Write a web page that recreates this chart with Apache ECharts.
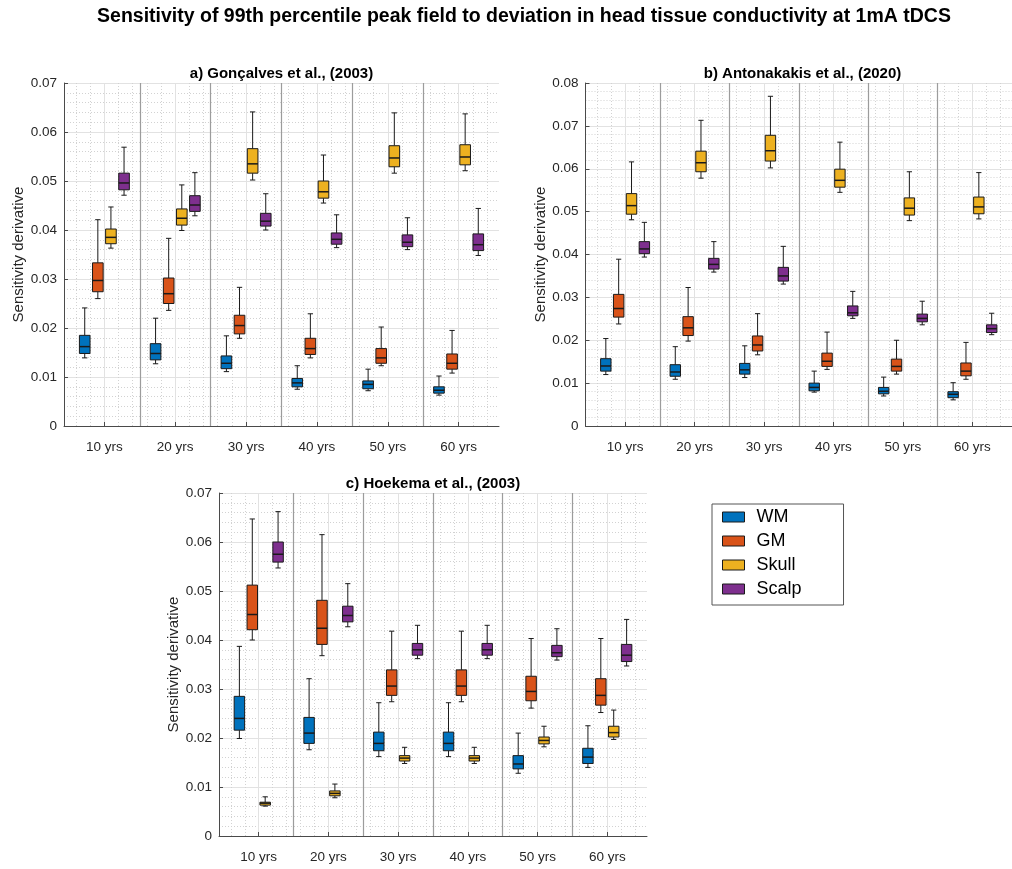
<!DOCTYPE html>
<html>
<head>
<meta charset="utf-8">
<script src="https://cdn.jsdelivr.net/npm/echarts@6/dist/echarts.min.js"></script>
<style>
  html, body { margin: 0; padding: 0; background: #fff; }
  #chart { width: 1012px; height: 869px; }
</style>
</head>
<body>
<div id="chart"></div>
<script>
// Age groups and tissues
const ageLabels = ['10 yrs', '20 yrs', '30 yrs', '40 yrs', '50 yrs', '60 yrs'];
const tissueNames = ['WM', 'GM', 'Skull', 'Scalp'];
const yTickStep = 0.01;

// Box statistics per age group: [lower whisker, Q1, median, Q3, upper whisker]
// a) Gonçalves et al. (2003)
const goncalvesWM = [
  [0.0139, 0.0148, 0.0162, 0.0185, 0.0241],
  [0.0127, 0.0135, 0.0148, 0.0168, 0.0220],
  [0.0111, 0.0117, 0.0128, 0.0143, 0.0184],
  [0.0075, 0.0080, 0.0088, 0.0097, 0.0123],
  [0.0072, 0.0076, 0.0085, 0.0092, 0.0116],
  [0.0063, 0.0067, 0.0073, 0.0080, 0.0102]
];
const goncalvesGM = [
  [0.0260, 0.0274, 0.0297, 0.0333, 0.0421],
  [0.0236, 0.0250, 0.0270, 0.0302, 0.0383],
  [0.0179, 0.0188, 0.0205, 0.0226, 0.0283],
  [0.0139, 0.0146, 0.0158, 0.0179, 0.0229],
  [0.0123, 0.0128, 0.0139, 0.0158, 0.0202],
  [0.0108, 0.0116, 0.0128, 0.0147, 0.0195]
];
const goncalvesSkull = [
  [0.0363, 0.0372, 0.0385, 0.0402, 0.0447],
  [0.0399, 0.0410, 0.0424, 0.0443, 0.0492],
  [0.0502, 0.0516, 0.0535, 0.0566, 0.0641],
  [0.0455, 0.0465, 0.0478, 0.0500, 0.0553],
  [0.0516, 0.0529, 0.0547, 0.0572, 0.0639],
  [0.0521, 0.0533, 0.0549, 0.0574, 0.0637]
];
const goncalvesScalp = [
  [0.0471, 0.0482, 0.0496, 0.0516, 0.0569],
  [0.0429, 0.0438, 0.0451, 0.0470, 0.0517],
  [0.0400, 0.0408, 0.0418, 0.0434, 0.0474],
  [0.0364, 0.0371, 0.0381, 0.0394, 0.0431],
  [0.0360, 0.0366, 0.0375, 0.0390, 0.0425],
  [0.0348, 0.0358, 0.0370, 0.0392, 0.0444]
];

// b) Antonakakis et al. (2020)
const antonakakisWM = [
  [0.0120, 0.0128, 0.0140, 0.0157, 0.0204],
  [0.0109, 0.0116, 0.0126, 0.0143, 0.0185],
  [0.0113, 0.0121, 0.0131, 0.0146, 0.0187],
  [0.0079, 0.0082, 0.0090, 0.0100, 0.0128],
  [0.0070, 0.0075, 0.0081, 0.0090, 0.0114],
  [0.0061, 0.0066, 0.0074, 0.0080, 0.0101]
];
const antonakakisGM = [
  [0.0238, 0.0254, 0.0274, 0.0307, 0.0389],
  [0.0198, 0.0211, 0.0229, 0.0255, 0.0323],
  [0.0166, 0.0175, 0.0189, 0.0210, 0.0262],
  [0.0132, 0.0139, 0.0151, 0.0170, 0.0219],
  [0.0121, 0.0128, 0.0139, 0.0156, 0.0200],
  [0.0109, 0.0117, 0.0128, 0.0147, 0.0195]
];
const antonakakisSkull = [
  [0.0481, 0.0494, 0.0514, 0.0542, 0.0616],
  [0.0578, 0.0593, 0.0614, 0.0641, 0.0713],
  [0.0602, 0.0618, 0.0642, 0.0678, 0.0769],
  [0.0545, 0.0557, 0.0573, 0.0599, 0.0662],
  [0.0479, 0.0492, 0.0508, 0.0532, 0.0593],
  [0.0483, 0.0495, 0.0511, 0.0534, 0.0591]
];
const antonakakisScalp = [
  [0.0394, 0.0402, 0.0413, 0.0430, 0.0475],
  [0.0359, 0.0366, 0.0377, 0.0391, 0.0430],
  [0.0331, 0.0338, 0.0350, 0.0370, 0.0419],
  [0.0251, 0.0257, 0.0264, 0.0280, 0.0314],
  [0.0236, 0.0243, 0.0251, 0.0261, 0.0291],
  [0.0213, 0.0218, 0.0227, 0.0236, 0.0263]
];

// c) Hoekema et al. (2003)
const hoekemaWM = [
  [0.0199, 0.0216, 0.0240, 0.0285, 0.0387],
  [0.0176, 0.0189, 0.0210, 0.0242, 0.0321],
  [0.0162, 0.0174, 0.0189, 0.0212, 0.0272],
  [0.0162, 0.0174, 0.0189, 0.0212, 0.0272],
  [0.0128, 0.0137, 0.0147, 0.0164, 0.0210],
  [0.0140, 0.0148, 0.0161, 0.0179, 0.0225]
];
const hoekemaGM = [
  [0.0400, 0.0421, 0.0452, 0.0512, 0.0647],
  [0.0368, 0.0391, 0.0424, 0.0481, 0.0615],
  [0.0274, 0.0287, 0.0306, 0.0339, 0.0418],
  [0.0274, 0.0287, 0.0306, 0.0339, 0.0418],
  [0.0261, 0.0276, 0.0295, 0.0326, 0.0403],
  [0.0252, 0.0267, 0.0287, 0.0321, 0.0403]
];
const hoekemaSkull = [
  [0.0061, 0.0063, 0.0067, 0.0069, 0.0080],
  [0.0078, 0.0082, 0.0087, 0.0092, 0.0106],
  [0.0148, 0.0153, 0.0159, 0.0164, 0.0181],
  [0.0148, 0.0153, 0.0159, 0.0164, 0.0181],
  [0.0182, 0.0188, 0.0195, 0.0202, 0.0224],
  [0.0197, 0.0202, 0.0211, 0.0224, 0.0257]
];
const hoekemaScalp = [
  [0.0547, 0.0559, 0.0575, 0.0600, 0.0662],
  [0.0427, 0.0437, 0.0450, 0.0469, 0.0515],
  [0.0362, 0.0369, 0.0380, 0.0393, 0.0430],
  [0.0362, 0.0369, 0.0380, 0.0393, 0.0430],
  [0.0359, 0.0366, 0.0374, 0.0389, 0.0423],
  [0.0347, 0.0356, 0.0369, 0.0391, 0.0442]
];

// ---- styling / layout ----
const FONT = '"Liberation Sans", Arial, Helvetica, sans-serif';
const TEXT = '#262626';
const AXIS = '#4a4a4a';
const TISSUE_COLORS = ['#0072BD', '#D95319', '#EDB120', '#7E2F8E'];
const TISSUE_OFFSETS = [-0.2775, -0.0925, 0.0925, 0.2775];
const BOX_WIDTH = 0.15;
const X_MIN = 0.43, X_MAX = 6.57;

const groupCenters = ageLabels.map((_, i) => i + 1);
const groupSeparators = ageLabels.slice(1).map((_, i) => i + 1.5);
const minorXValues = [];
for (let g = 0; g <= ageLabels.length; g++) {
  [-0.4, -0.2, 0.2, 0.4].forEach(d => {
    const v = +(g + 1 + d).toFixed(2);
    if (v > X_MIN && v < X_MAX) minorXValues.push(v);
  });
}

const panels = [
  { title: 'a) Gonçalves et al., (2003)', yMax: 0.07,
    stats: [goncalvesWM, goncalvesGM, goncalvesSkull, goncalvesScalp],
    rect: { left: 64, top: 83, width: 435, height: 343 } },
  { title: 'b) Antonakakis et al., (2020)', yMax: 0.08,
    stats: [antonakakisWM, antonakakisGM, antonakakisSkull, antonakakisScalp],
    rect: { left: 585.5, top: 83, width: 434, height: 343 } },
  { title: 'c) Hoekema et al., (2003)', yMax: 0.07,
    stats: [hoekemaWM, hoekemaGM, hoekemaSkull, hoekemaScalp],
    rect: { left: 219, top: 493, width: 428, height: 343 } }
];

function renderBox(params, api) {
  const x = api.value(0);
  const pLo = api.coord([x, api.value(1)]);
  const pQ1 = api.coord([x, api.value(2)]);
  const pMed = api.coord([x, api.value(3)]);
  const pQ3 = api.coord([x, api.value(4)]);
  const pHi = api.coord([x, api.value(5)]);
  const halfW = api.size([BOX_WIDTH, 0])[0] / 2;
  const capW = halfW * 0.5;
  const cx = pMed[0];
  const stroke = '#1a1a1a';
  const seg = (x1, y1, x2, y2, w) => ({
    type: 'line', shape: { x1, y1, x2, y2 }, style: { stroke, lineWidth: w }
  });
  return {
    type: 'group',
    children: [
      seg(cx, pHi[1], cx, pQ3[1], 1),
      seg(cx, pQ1[1], cx, pLo[1], 1),
      seg(cx - capW, pHi[1], cx + capW, pHi[1], 1),
      seg(cx - capW, pLo[1], cx + capW, pLo[1], 1),
      { type: 'rect',
        shape: { x: cx - halfW, y: pQ3[1], width: 2 * halfW, height: pQ1[1] - pQ3[1] },
        style: { fill: api.visual('color'), stroke, lineWidth: 1 } },
      seg(cx - halfW, pMed[1], cx + halfW, pMed[1], 1.5)
    ]
  };
}

const grids = [], xAxes = [], yAxes = [], series = [], titles = [];

titles.push({
  text: 'Sensitivity of 99th percentile peak field to deviation in head tissue conductivity at 1mA tDCS',
  left: 524, top: 7, textAlign: 'center', padding: 0,
  textStyle: { fontFamily: FONT, fontSize: 19.5, fontWeight: 'bold', color: '#000' }
});

panels.forEach((p, pi) => {
  grids.push(Object.assign({ containLabel: false }, p.rect));
  titles.push({
    text: p.title, left: p.rect.left + p.rect.width / 2, top: p.rect.top - 17,
    textAlign: 'center', padding: 0,
    textStyle: { fontFamily: FONT, fontSize: 15, fontWeight: 'bold', color: '#000' }
  });
  // main axis: age labels, ticks and major vertical grid
  xAxes.push({
    type: 'value', gridIndex: pi, min: X_MIN, max: X_MAX, position: 'bottom',
    axisLine: { show: true, onZero: false, lineStyle: { color: AXIS, width: 1 } },
    axisTick: { show: true, inside: true, length: 4, customValues: groupCenters,
      lineStyle: { color: AXIS } },
    axisLabel: { customValues: groupCenters, margin: 14,
      formatter: v => ageLabels[Math.round(v) - 1],
      color: TEXT, fontFamily: FONT, fontSize: 13.5 },
    splitLine: { show: true, lineStyle: { color: '#e2e2e2', width: 1 } }
  });
  // minor vertical grid
  xAxes.push({
    type: 'value', gridIndex: pi, min: X_MIN, max: X_MAX, position: 'top',
    axisLine: { show: false }, axisLabel: { show: false },
    axisTick: { show: false, customValues: minorXValues },
    splitLine: { show: true, lineStyle: { color: '#d2d2d2', width: 1, type: [1, 2] } }
  });
  yAxes.push({
    type: 'value', gridIndex: pi, min: 0, max: p.yMax, interval: yTickStep,
    name: 'Sensitivity derivative', nameLocation: 'middle', nameGap: 35,
    nameTextStyle: { fontFamily: FONT, fontSize: 15, color: TEXT },
    axisLine: { show: true, lineStyle: { color: AXIS, width: 1 } },
    axisTick: { show: true, inside: true, length: 4, lineStyle: { color: AXIS } },
    axisLabel: { color: TEXT, fontFamily: FONT, fontSize: 13.5, margin: 7 },
    splitLine: { show: true, lineStyle: { color: '#e2e2e2', width: 1 } },
    minorTick: { show: false, splitNumber: 5 },
    minorSplitLine: { show: true, lineStyle: { color: '#d2d2d2', width: 1, type: [1, 2] } }
  });
  p.stats.forEach((rows, ti) => {
    const s = {
      type: 'custom', name: tissueNames[ti],
      xAxisIndex: pi * 2, yAxisIndex: pi,
      itemStyle: { color: TISSUE_COLORS[ti] },
      encode: { x: 0, y: [1, 2, 3, 4, 5] },
      renderItem: renderBox,
      data: rows.map((r, gi) => [gi + 1 + TISSUE_OFFSETS[ti]].concat(r)),
      z: 3
    };
    if (ti === 0) {
      // dividers between age groups
      s.markLine = {
        silent: true, symbol: ['none', 'none'], label: { show: false },
        lineStyle: { color: '#9c9c9c', width: 1.2, type: 'solid' },
        data: groupSeparators.map(v => ({ xAxis: v }))
      };
    }
    series.push(s);
  });
});

const chart = echarts.init(document.getElementById('chart'));
chart.setOption({
  animation: false,
  backgroundColor: '#fff',
  title: titles,
  grid: grids,
  xAxis: xAxes,
  yAxis: yAxes,
  legend: {
    data: tissueNames, orient: 'vertical', left: 712, top: 504,
    padding: [4, 42, 7, 10], itemWidth: 22, itemHeight: 10, itemGap: 6,
    icon: 'rect', borderColor: '#555', borderWidth: 1,
    itemStyle: { borderColor: '#1a1a1a', borderWidth: 1 },
    textStyle: { fontFamily: FONT, fontSize: 18, color: '#000', padding: [0, 0, 0, 7] },
    selectedMode: false
  },
  series
});
</script>
</body>
</html>
